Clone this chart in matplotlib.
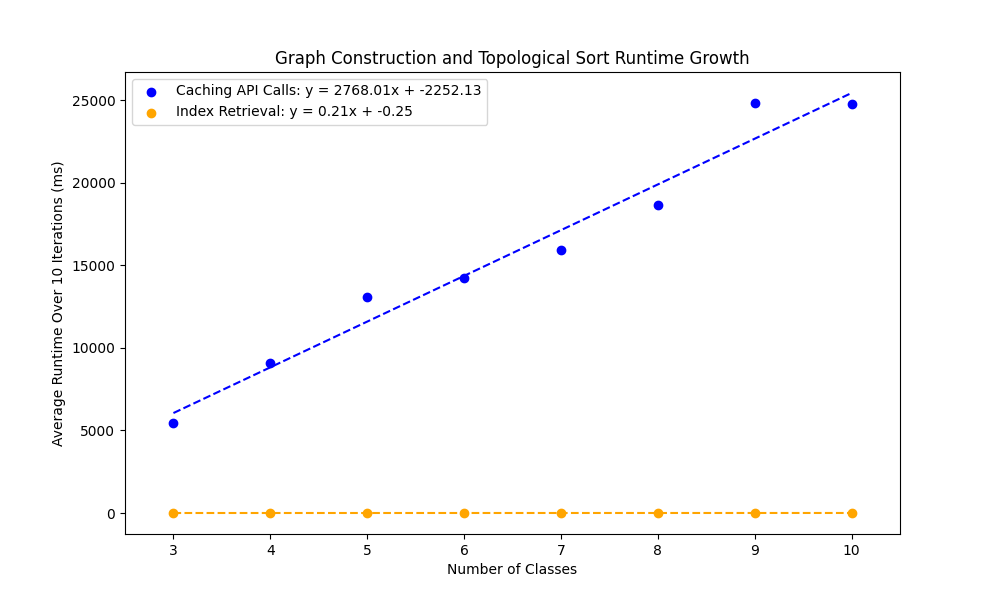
import matplotlib
matplotlib.use("Agg")
import matplotlib.pyplot as plt
import numpy as np

num_classes = [3, 4, 5, 6, 7, 8, 9, 10]
caching_runtime = [5460, 9100, 13100, 14240, 15950, 18620, 24820, 24790]
index_runtime = [0.4, 0.6, 0.8, 1.0, 1.2, 1.5, 1.6, 1.9]

# fit coefficients as shown in the legend
caching_fit = (2768.01, -2252.13)
index_fit = (0.21, -0.25)

x = np.array(num_classes)

fig, ax = plt.subplots(figsize=(10, 6), dpi=100)

ax.scatter(num_classes, caching_runtime, color="blue",
           label=f"Caching API Calls: y = {caching_fit[0]:.2f}x + {caching_fit[1]:.2f}")
ax.plot(x, caching_fit[0] * x + caching_fit[1], color="blue", linestyle="--")

ax.scatter(num_classes, index_runtime, color="orange",
           label=f"Index Retrieval: y = {index_fit[0]:.2f}x + {index_fit[1]:.2f}")
ax.plot(x, index_fit[0] * x + index_fit[1], color="orange", linestyle="--")

ax.set_xlim(2.5, 10.5)
ax.set_xlabel("Number of Classes")
ax.set_ylabel("Average Runtime Over 10 Iterations (ms)")
ax.set_title("Graph Construction and Topological Sort Runtime Growth")
ax.legend(loc="upper left")

fig.savefig("out.png")
